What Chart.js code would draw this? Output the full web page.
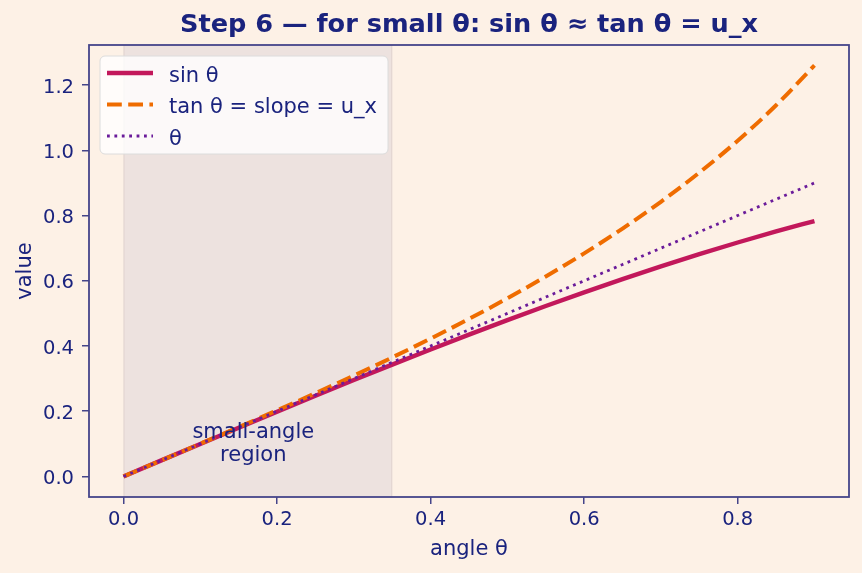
<!DOCTYPE html>
<html>
<head>
<meta charset="utf-8">
<script src="https://cdn.jsdelivr.net/npm/chart.js@4.4.1/dist/chart.umd.min.js"></script>
<style>
  html, body { margin: 0; padding: 0; background: #fdf1e6; }
  #wrap { width: 862px; height: 573px; }
</style>
</head>
<body>
<div id="wrap"><canvas id="c" width="862" height="573"></canvas></div>
<script>
// angles (radians) and values
const angles = [0, 0.05, 0.1, 0.15, 0.2, 0.25, 0.3, 0.35, 0.4, 0.45, 0.5, 0.55, 0.6, 0.65, 0.7, 0.75, 0.8, 0.85, 0.9];
const sinVals = [0, 0.050, 0.0998, 0.1494, 0.1987, 0.2474, 0.2955, 0.3429, 0.3894, 0.4350, 0.4794, 0.5227, 0.5646, 0.6052, 0.6442, 0.6816, 0.7174, 0.7513, 0.7833];
const tanVals = [0, 0.050, 0.1003, 0.1511, 0.2027, 0.2553, 0.3093, 0.3650, 0.4228, 0.4831, 0.5463, 0.6131, 0.6841, 0.7602, 0.8423, 0.9316, 1.0296, 1.1383, 1.2602];
const thetaVals = [0, 0.05, 0.1, 0.15, 0.2, 0.25, 0.3, 0.35, 0.4, 0.45, 0.5, 0.55, 0.6, 0.65, 0.7, 0.75, 0.8, 0.85, 0.9];

const xTicks = [0.0, 0.2, 0.4, 0.6, 0.8];
const yTicks = [0.0, 0.2, 0.4, 0.6, 0.8, 1.0, 1.2];
const regionStart = 0, regionEnd = 0.35;

const TEXT = "#1a237e";
const SPINE = "#45458a";
const FONT = "'DejaVu Sans', sans-serif";

function pts(ys) {
  return angles.map((x, i) => ({ x: x, y: ys[i] }));
}

const seriesInfo = [
  { label: "sin θ", color: "#c2185b", width: 4.4, dash: [] },
  { label: "tan θ = slope = u_x", color: "#ef6c00", width: 4, dash: [14.8, 6.4] },
  { label: "θ", color: "#6a1b9a", width: 2.8, dash: [2.8, 4.6] },
];

const decor = {
  id: "decor",
  beforeDraw(chart) {
    const { ctx, chartArea: a, scales } = chart;
    ctx.save();
    ctx.fillStyle = "#fdf1e6";
    ctx.fillRect(0, 0, chart.width, chart.height);
    const x0 = scales.x.getPixelForValue(regionStart);
    const x1 = scales.x.getPixelForValue(regionEnd);
    ctx.fillStyle = "#ede2df";
    ctx.fillRect(x0, a.top, x1 - x0, a.bottom - a.top);
    ctx.strokeStyle = "#e2d4d0";
    ctx.lineWidth = 1;
    ctx.beginPath();
    ctx.moveTo(x0 + 0.5, a.top); ctx.lineTo(x0 + 0.5, a.bottom);
    ctx.moveTo(x1 - 0.5, a.top); ctx.lineTo(x1 - 0.5, a.bottom);
    ctx.stroke();
    ctx.restore();
  },
  afterDatasetsDraw(chart) {
    const { ctx, scales } = chart;
    ctx.save();
    ctx.fillStyle = TEXT;
    ctx.font = "21px " + FONT;
    ctx.textAlign = "center";
    ctx.textBaseline = "alphabetic";
    const cx = scales.x.getPixelForValue(0.169);
    const cy = scales.y.getPixelForValue(0.1);
    ctx.fillText("small-angle", cx, cy - 6);
    ctx.fillText("region", cx, cy + 17);
    ctx.restore();
  },
  afterDraw(chart) {
    const { ctx, chartArea: a } = chart;
    ctx.save();
    // spines
    ctx.strokeStyle = SPINE;
    ctx.lineWidth = 1.8;
    ctx.strokeRect(a.left, a.top, a.right - a.left, a.bottom - a.top);

    // title
    ctx.fillStyle = TEXT;
    ctx.font = "bold 25.6px " + FONT;
    ctx.textAlign = "center";
    ctx.textBaseline = "alphabetic";
    ctx.fillText("Step 6 — for small θ: sin θ ≈ tan θ = u_x", (a.left + a.right) / 2, 32);

    // axis titles
    ctx.font = "21px " + FONT;
    ctx.fillText("angle θ", (a.left + a.right) / 2, 555);
    ctx.save();
    ctx.translate(31, (a.top + a.bottom) / 2);
    ctx.rotate(-Math.PI / 2);
    ctx.fillText("value", 0, 0);
    ctx.restore();

    // legend
    const lx = 100, ly = 56, lw = 288, lh = 98;
    ctx.beginPath();
    ctx.roundRect(lx, ly, lw, lh, 5);
    ctx.fillStyle = "rgba(255,255,255,0.8)";
    ctx.fill();
    ctx.strokeStyle = "#dcdcdc";
    ctx.lineWidth = 1;
    ctx.stroke();
    seriesInfo.forEach((s, i) => {
      const y = 73 + i * 31.5;
      ctx.beginPath();
      ctx.strokeStyle = s.color;
      ctx.lineWidth = s.width;
      ctx.setLineDash(s.dash);
      ctx.moveTo(107, y);
      ctx.lineTo(153, y);
      ctx.stroke();
      ctx.setLineDash([]);
      ctx.fillStyle = TEXT;
      ctx.textAlign = "left";
      ctx.textBaseline = "alphabetic";
      ctx.fillText(s.label, 169, y + 8.5);
    });
    ctx.restore();
  }
};

new Chart(document.getElementById("c"), {
  type: "line",
  data: {
    datasets: [
      { data: pts(sinVals), order: 3 },
      { data: pts(tanVals), order: 2 },
      { data: pts(thetaVals), order: 1 },
    ].map((d, i) => Object.assign(d, {
      label: seriesInfo[i].label,
      borderColor: seriesInfo[i].color,
      borderWidth: seriesInfo[i].width,
      borderDash: seriesInfo[i].dash,
      pointRadius: 0,
      fill: false,
      cubicInterpolationMode: "monotone",
    })),
  },
  options: {
    responsive: false,
    animation: false,
    layout: { padding: { top: 45, right: 13, left: 0, bottom: 0 } },
    plugins: {
      legend: { display: false },
      tooltip: { enabled: false },
      title: { display: false },
    },
    scales: {
      x: {
        type: "linear",
        min: -0.045,
        max: 0.945,
        afterBuildTicks: (s) => { s.ticks = xTicks.map(v => ({ value: v })); },
        afterFit: (s) => { s.height = 76; },
        border: { display: false },
        grid: { drawOnChartArea: false, drawTicks: true, tickLength: 7, color: SPINE, lineWidth: 1.5 },
        ticks: { color: TEXT, font: { family: FONT, size: 19.5 }, padding: 4, callback: (v) => v.toFixed(1), maxRotation: 0 },
      },
      y: {
        type: "linear",
        min: -0.063,
        max: 1.323,
        afterBuildTicks: (s) => { s.ticks = yTicks.map(v => ({ value: v })); },
        afterFit: (s) => { s.width = 89; },
        border: { display: false },
        grid: { drawOnChartArea: false, drawTicks: true, tickLength: 7, color: SPINE, lineWidth: 1.5 },
        ticks: { color: TEXT, font: { family: FONT, size: 19.5 }, padding: 8, labelOffset: 2.5, callback: (v) => v.toFixed(1) },
      },
    },
  },
  plugins: [decor],
});
</script>
</body>
</html>
